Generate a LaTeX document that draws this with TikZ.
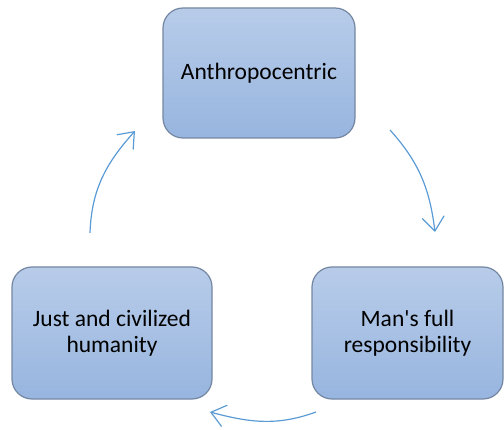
\documentclass[tikz,border=0pt]{standalone}
\usepackage{fontspec}
\setmainfont{Carlito}
\usetikzlibrary{arrows.meta}
\definecolor{boxtop}{HTML}{B8CCE9}
\definecolor{boxbot}{HTML}{97B5DF}
\definecolor{boxedge}{HTML}{7487A2}
\definecolor{flow}{HTML}{5B9BD5}
\tikzset{
  stage/.style={draw=boxedge, line width=1.2pt, rounded corners=20pt,
    top color=boxtop, bottom color=boxbot, align=center,
    font=\fontsize{23.5}{26}\selectfont, inner sep=0pt},
  cycle arrow/.style={draw=flow, line width=1.2pt,
    -{Straight Barb[length=14pt,width=22pt,line width=1.2pt]}}
}
\begin{document}
\begin{tikzpicture}[x=1pt,y=1pt]
  \useasboundingbox (0,0) rectangle (504,429);
  % the three stages
  \node[stage, minimum width=192pt, minimum height=130pt] (anthro) at (259,356) {Anthropocentric};
  \node[stage, minimum width=191pt, minimum height=132pt] (resp) at (407.5,96) {Man\textquotesingle s full\\responsibility};
  \node[stage, minimum width=200pt, minimum height=132pt] (just) at (112,96) {Just and civilized\\humanity};
  % free ends of the cycle arrows
  \coordinate (a1) at (390,299);
  \coordinate (b1) at (435,197);
  \coordinate (a2) at (316,17);
  \coordinate (b2) at (210,17);
  \coordinate (a3) at (90,196);
  \coordinate (b3) at (135,298);
  \draw[cycle arrow] (a1) to[out=-48, in=97] (b1);
  \draw[cycle arrow] (a2) to[out=200, in=-15] (b2);
  \draw[cycle arrow] (a3) to[out=88, in=228] (b3);
\end{tikzpicture}
\end{document}
